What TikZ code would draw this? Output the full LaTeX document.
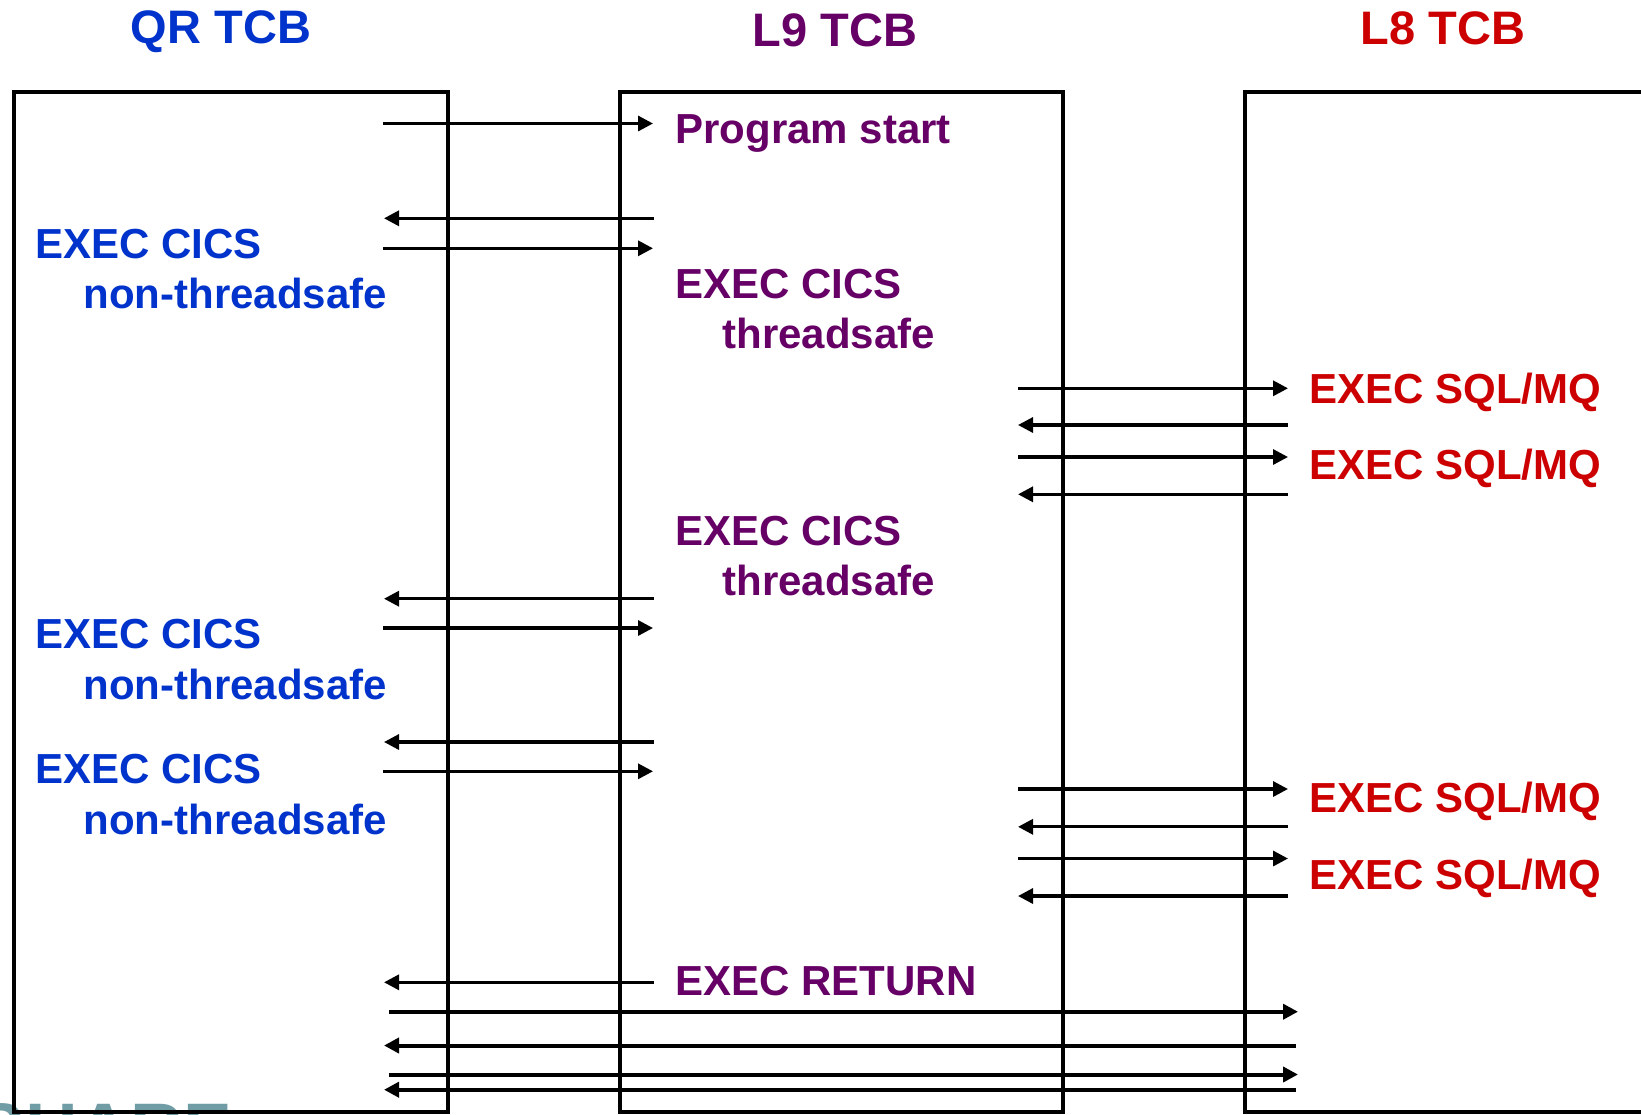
\documentclass[tikz,border=0pt]{standalone}
\usepackage{fontspec}
\setmainfont{Liberation Sans}
\usetikzlibrary{arrows.meta}
\definecolor{qrblue}{RGB}{0,51,204}
\definecolor{lninepurple}{RGB}{102,0,102}
\definecolor{leightred}{RGB}{204,0,0}
\definecolor{sharegray}{RGB}{112,156,166}
\tikzset{
  tcbbox/.style={draw=black, line width=2pt},
  msg/.style={draw=black, line width=1.6pt, -{Triangle[length=7.5pt,width=7.5pt]}},
  longmsg/.style={draw=black, line width=2pt, -{Triangle[length=7.5pt,width=7.5pt]}},
  ttl/.style={font=\bfseries\fontsize{23.5}{28}\selectfont, anchor=base, inner sep=0pt},
  lbl/.style={font=\bfseries\fontsize{21}{25}\selectfont, anchor=base west, inner sep=0pt},
}
\begin{document}
\begin{tikzpicture}[x=0.5pt,y=-0.5pt]
\useasboundingbox (0,0) rectangle (1641,1114);
\fill[white] (0,0) rectangle (1641,1114);
\begin{scope}
\clip (0,0) rectangle (1641,1114);
% faint logo at bottom left
\node[font=\bfseries\fontsize{36.5}{40}\selectfont, text=sharegray, anchor=base west, inner sep=0pt] (share) at (-24,1154) {SHARE};
% TCB boxes
\draw[tcbbox] (14,92) rectangle (448,1112);
\draw[tcbbox] (620,92) rectangle (1063,1112);
\draw[tcbbox] (1245,92) rectangle (1720,1112);
\end{scope}

% titles
\node[ttl, text=qrblue] (qrt) at (221,43) {QR TCB};
\node[ttl, text=lninepurple] (l9t) at (835,46) {L9 TCB};
\node[ttl, text=leightred] (l8t) at (1443,44) {L8 TCB};

% QR labels
\node[lbl, text=qrblue] (qa1) at (35,258) {EXEC CICS};
\node[lbl, text=qrblue] (qa2) at (83,308) {non-threadsafe};
\node[lbl, text=qrblue] (qb1) at (35,648) {EXEC CICS};
\node[lbl, text=qrblue] (qb2) at (83,699) {non-threadsafe};
\node[lbl, text=qrblue] (qc1) at (35,783) {EXEC CICS};
\node[lbl, text=qrblue] (qc2) at (83,834) {non-threadsafe};

% L9 labels
\node[lbl, text=lninepurple] (ps) at (675,143) {Program start};
\node[lbl, text=lninepurple] (la1) at (675,298) {EXEC CICS};
\node[lbl, text=lninepurple] (la2) at (722,348) {threadsafe};
\node[lbl, text=lninepurple] (lb1) at (675,545) {EXEC CICS};
\node[lbl, text=lninepurple] (lb2) at (722,595) {threadsafe};
\node[lbl, text=lninepurple] (ret) at (675,995) {EXEC RETURN};

% L8 labels
\node[lbl, text=leightred] (s1) at (1309,403) {EXEC SQL/MQ};
\node[lbl, text=leightred] (s2) at (1309,479) {EXEC SQL/MQ};
\node[lbl, text=leightred] (s3) at (1309,812) {EXEC SQL/MQ};
\node[lbl, text=leightred] (s4) at (1309,889) {EXEC SQL/MQ};

% coordinates QR <-> L9
\coordinate (q1) at (383,123.5);  \coordinate (n1) at (653,123.5);
\coordinate (q2) at (384,218.3);  \coordinate (n2) at (654,218.3);
\coordinate (q3) at (383,248.3);  \coordinate (n3) at (653,248.3);
\coordinate (q4) at (384,598.7);  \coordinate (n4) at (654,598.7);
\coordinate (q5) at (383,628);    \coordinate (n5) at (653,628);
\coordinate (q6) at (384,742);    \coordinate (n6) at (654,742);
\coordinate (q7) at (383,771.3);  \coordinate (n7) at (653,771.3);
\coordinate (q8) at (384,982.3);  \coordinate (n8) at (654,982.3);
\draw[msg] (q1) -- (n1);
\draw[msg] (n2) -- (q2);
\draw[msg] (q3) -- (n3);
\draw[msg] (n4) -- (q4);
\draw[msg] (q5) -- (n5);
\draw[msg] (n6) -- (q6);
\draw[msg] (q7) -- (n7);
\draw[msg] (n8) -- (q8);

% coordinates L9 <-> L8
\coordinate (m1) at (1018,388.3); \coordinate (e1) at (1288,388.3);
\coordinate (m2) at (1018,425);   \coordinate (e2) at (1288,425);
\coordinate (m3) at (1018,457);   \coordinate (e3) at (1288,457);
\coordinate (m4) at (1018,494.3); \coordinate (e4) at (1288,494.3);
\coordinate (m5) at (1018,789);   \coordinate (e5) at (1288,789);
\coordinate (m6) at (1018,826.8); \coordinate (e6) at (1288,826.8);
\coordinate (m7) at (1018,858.5); \coordinate (e7) at (1288,858.5);
\coordinate (m8) at (1018,896);   \coordinate (e8) at (1288,896);
\draw[msg] (m1) -- (e1);
\draw[msg] (e2) -- (m2);
\draw[msg] (m3) -- (e3);
\draw[msg] (e4) -- (m4);
\draw[msg] (m5) -- (e5);
\draw[msg] (e6) -- (m6);
\draw[msg] (m7) -- (e7);
\draw[msg] (e8) -- (m8);

% long arrows QR <-> L8
\coordinate (w1) at (389,1011.7);  \coordinate (z1) at (1298,1011.7);
\coordinate (w2) at (384,1045.5);  \coordinate (z2) at (1296,1045.5);
\coordinate (w3) at (389,1074.5);  \coordinate (z3) at (1298,1074.5);
\coordinate (w4) at (384,1089.7);  \coordinate (z4) at (1296,1089.7);
\draw[longmsg] (w1) -- (z1);
\draw[longmsg] (z2) -- (w2);
\draw[longmsg] (w3) -- (z3);
\draw[longmsg] (z4) -- (w4);
\end{tikzpicture}
\end{document}
